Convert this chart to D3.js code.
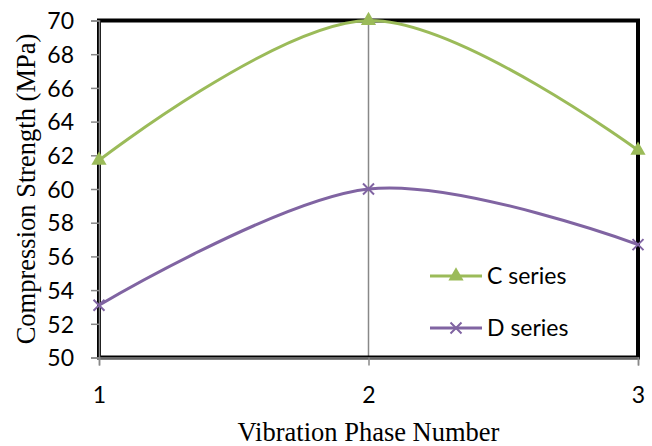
<!DOCTYPE html>
<html><head><meta charset="utf-8">
<script src="https://cdn.jsdelivr.net/npm/d3@7"></script>
<style>body{margin:0;background:#fff}</style>
</head><body><svg id="c" width="652" height="446"></svg>
<script>
const phases = [1, 2, 3];
const cSeries = [61.7, 70.0, 62.3];
const dSeries = [53.1, 60.0, 56.7];
const yTicks = [50, 52, 54, 56, 58, 60, 62, 64, 66, 68, 70];
const xTicks = [1, 2, 3];
const seriesNames = ["C series", "D series"];

const svg = d3.select("#c");
const L = 99, R = 638, T = 20.5, B = 357.5;
const x = d3.scaleLinear().domain([1, 3]).range([L, R]);
const y = d3.scaleLinear().domain([50, 70]).range([B, T]);
const green = "#9BBB59", purple = "#8064A2";
const tickFont = "Lato, 'Open Sans', sans-serif";
const serif = "'Liberation Serif', 'Times New Roman', serif";

// gridline at x=2
svg.append("g").selectAll("line").data(xTicks.slice(1, -1)).join("line")
  .attr("x1", d => x(d)).attr("x2", d => x(d)).attr("y1", T).attr("y2", B)
  .attr("stroke", "#888").attr("stroke-width", 1.5);

// border
svg.append("rect").attr("x", L).attr("y", T).attr("width", R - L).attr("height", B - T)
  .attr("fill", "none").attr("stroke", "#000").attr("stroke-width", 4);

// axes
const yAxis = svg.append("g").attr("transform", `translate(${L},0)`)
  .call(d3.axisLeft(y).tickValues(yTicks).tickSize(8).tickPadding(17).tickFormat(d3.format("d")));
const xAxis = svg.append("g").attr("transform", `translate(0,${B})`)
  .call(d3.axisBottom(x).tickValues(xTicks).tickSize(8).tickPadding(21).tickFormat(d3.format("d")));
[yAxis, xAxis].forEach(g => {
  g.select(".domain").attr("stroke", "#888").attr("stroke-width", 1.5);
  g.selectAll(".tick line").attr("stroke", "#888").attr("stroke-width", 1.5);
  g.selectAll("text").attr("font-family", tickFont).attr("font-size", 23).attr("fill", "#000");
});
yAxis.selectAll("text").attr("dy", "0.36em");

// lines
const line = d3.line().x((d, i) => x(phases[i])).y(d => y(d)).curve(d3.curveCardinal.tension(0));
const data = [{v: cSeries, c: green, m: "tri"}, {v: dSeries, c: purple, m: "x"}];
data.forEach(s => {
  svg.append("path").attr("d", line(s.v)).attr("fill", "none").attr("stroke", s.c).attr("stroke-width", 3);
});
function marker(g, cx, cy, type, col) {
  if (type === "tri") {
    g.append("path").attr("d", d3.symbol(d3.symbolTriangle, 100)())
      .attr("transform", `translate(${cx},${cy})`).attr("fill", col);
  } else {
    const r = 5.5;
    g.append("path").attr("d", `M${cx-r},${cy-r}L${cx+r},${cy+r}M${cx-r},${cy+r}L${cx+r},${cy-r}`)
      .attr("stroke", col).attr("stroke-width", 2);
  }
}
data.forEach(s => s.v.forEach((v, i) => marker(svg, x(phases[i]), y(v), s.m, s.c)));

// legend
const legY = [276, 328];
data.forEach((s, i) => {
  svg.append("line").attr("x1", 430).attr("x2", 482).attr("y1", legY[i]).attr("y2", legY[i])
    .attr("stroke", s.c).attr("stroke-width", 3);
  marker(svg, 456, legY[i], s.m, s.c);
  svg.append("text").attr("x", 487).attr("y", legY[i]).attr("dy", "0.36em")
    .attr("font-family", tickFont).attr("font-size", 23).text(seriesNames[i]);
});

// titles
svg.append("text").attr("x", (L + R) / 2 + 0).attr("y", 441).attr("text-anchor", "middle")
  .attr("font-family", serif).attr("font-size", 26.5)
  .text("Vibration Phase Number");
svg.append("text").attr("transform", `translate(35,${(T + B) / 2}) rotate(-90)`).attr("text-anchor", "middle")
  .attr("font-family", serif).attr("font-size", 26.5)
  .text("Compression Strength (MPa)");
</script></body></html>
